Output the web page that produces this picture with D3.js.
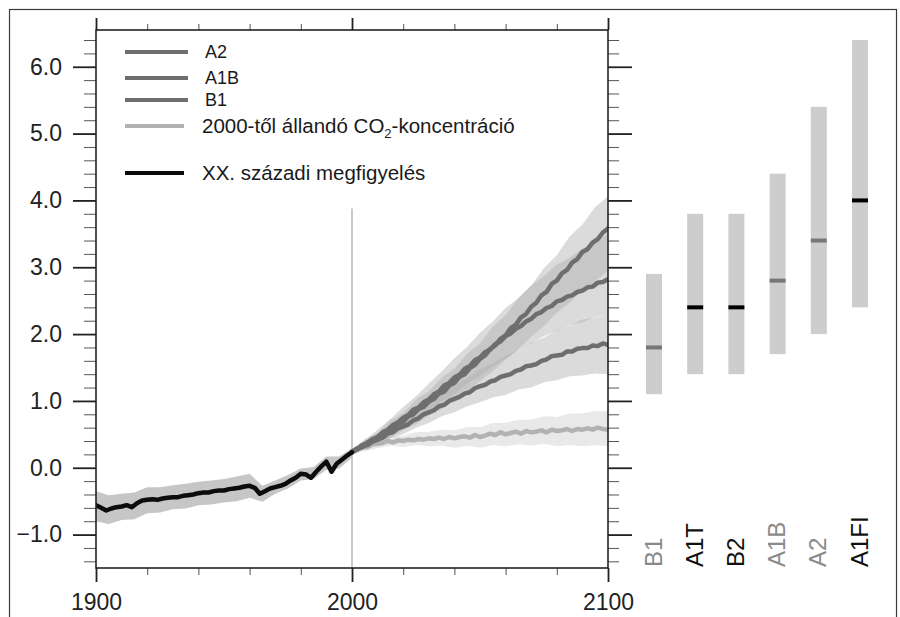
<!DOCTYPE html>
<html><head><meta charset="utf-8">
<script src="https://cdn.jsdelivr.net/npm/d3@7"></script>
<style>
body{margin:0;background:#fff}
svg{display:block}
text{font-family:"Liberation Sans",Arial,Helvetica,sans-serif}
</style>
</head><body>
<svg id="c" width="900" height="617"></svg>
<script>
// ---------- DATA ----------
const xTicks = [1900, 2000, 2100];
const xTickLabels = ["1900", "2000", "2100"];
const xMinorTicks = [1920, 1940, 1960, 1980, 2020, 2040, 2060, 2080];
const yTicks = [-1, 0, 1, 2, 3, 4, 5, 6];
const yTickLabels = ["\u22121.0", "0.0", "1.0", "2.0", "3.0", "4.0", "5.0", "6.0"];

// 20th century observations (every 2 years, 1900-2000)
const histYears = d3.range(1900, 2001, 2);
const histObs = [-0.56,-0.60,-0.64,-0.61,-0.59,-0.58,-0.56,-0.59,-0.53,-0.49,
  -0.48,-0.47,-0.48,-0.46,-0.45,-0.44,-0.44,-0.42,-0.41,-0.40,
  -0.38,-0.37,-0.37,-0.35,-0.34,-0.34,-0.32,-0.31,-0.30,-0.28,
  -0.27,-0.30,-0.39,-0.35,-0.31,-0.29,-0.27,-0.24,-0.19,-0.15,
  -0.09,-0.10,-0.15,-0.06,0.02,0.09,-0.06,0.06,0.12,0.18,0.23];
// 20th century model spread (every 5 years)
const histBandYears = d3.range(1900, 2001, 5);
const histLow  = [-0.80,-0.84,-0.78,-0.77,-0.68,-0.67,-0.62,-0.61,-0.56,-0.55,-0.52,-0.50,-0.45,-0.51,-0.39,-0.31,-0.19,-0.17,-0.03,-0.01,0.15];
const histHigh = [-0.35,-0.41,-0.39,-0.37,-0.29,-0.29,-0.26,-0.24,-0.21,-0.19,-0.17,-0.13,-0.09,-0.27,-0.19,-0.11,-0.01,0.01,0.17,0.17,0.29];

// projections (every 2 years, 2000-2100)
const projYears = d3.range(2000, 2101, 2);
const a2Mean = [0.24,0.29,0.31,0.38,0.40,0.46,0.49,0.56,0.58,0.66,0.69,0.77,0.80,0.88,0.91,0.99,1.03,1.11,1.14,1.23,
  1.27,1.36,1.40,1.49,1.54,1.63,1.68,1.78,1.83,1.93,1.98,2.09,2.14,2.25,2.30,2.41,2.47,2.58,2.63,2.75,
  2.80,2.91,2.96,3.07,3.12,3.23,3.27,3.37,3.42,3.52,3.58];
const a1bMean = [0.24,0.28,0.34,0.37,0.43,0.46,0.53,0.57,0.64,0.68,0.75,0.79,0.87,0.90,0.98,1.02,1.10,1.14,1.23,1.27,
  1.35,1.39,1.48,1.52,1.61,1.65,1.73,1.77,1.85,1.89,1.97,2.01,2.08,2.12,2.19,2.23,2.30,2.33,2.39,2.42,
  2.49,2.51,2.56,2.58,2.63,2.65,2.70,2.71,2.77,2.78,2.82];
const b1Mean = [0.24,0.27,0.32,0.34,0.39,0.42,0.45,0.51,0.53,0.59,0.62,0.65,0.71,0.74,0.80,0.83,0.86,0.92,0.94,1.00,
  1.03,1.06,1.11,1.13,1.19,1.22,1.24,1.29,1.31,1.36,1.38,1.40,1.45,1.47,1.52,1.53,1.55,1.60,1.62,1.67,
  1.68,1.69,1.74,1.74,1.78,1.79,1.79,1.83,1.82,1.86,1.84];
const commitMean = [0.23,0.27,0.30,0.31,0.35,0.36,0.37,0.40,0.38,0.41,0.40,0.42,0.41,0.43,0.42,0.44,0.43,0.45,0.43,0.46,
  0.44,0.46,0.47,0.45,0.49,0.46,0.48,0.51,0.49,0.53,0.50,0.52,0.54,0.51,0.55,0.53,0.54,0.56,0.53,0.57,
  0.55,0.56,0.58,0.55,0.58,0.57,0.59,0.57,0.60,0.58,0.57];

// projection spreads (every 5 years, 2000-2100)
const bandYears = d3.range(2000, 2101, 5);
const a2Low  = [0.21,0.28,0.37,0.45,0.56,0.65,0.78,0.88,1.02,1.14,1.30,1.44,1.62,1.77,1.96,2.12,2.32,2.47,2.66,2.79,2.95];
const a2High = [0.27,0.43,0.52,0.71,0.82,1.02,1.14,1.35,1.48,1.71,1.86,2.11,2.28,2.54,2.72,2.99,3.18,3.46,3.64,3.90,4.06];
const a1bLow  = [0.21,0.31,0.38,0.51,0.60,0.74,0.84,0.99,1.10,1.26,1.37,1.52,1.63,1.76,1.86,1.97,2.05,2.13,2.18,2.25,2.30];
const a1bHigh = [0.27,0.41,0.57,0.73,0.91,1.07,1.26,1.44,1.64,1.81,2.02,2.19,2.39,2.54,2.73,2.87,3.04,3.14,3.28,3.38,3.50];
const b1Low  = [0.21,0.29,0.34,0.44,0.50,0.60,0.67,0.77,0.83,0.92,0.98,1.05,1.09,1.17,1.20,1.28,1.31,1.37,1.38,1.41,1.40];
const b1High = [0.27,0.37,0.50,0.60,0.75,0.85,1.00,1.10,1.24,1.34,1.48,1.56,1.68,1.75,1.87,1.95,2.06,2.12,2.22,2.24,2.30];
const commitLow  = [0.19,0.25,0.29,0.33,0.31,0.34,0.32,0.33,0.30,0.33,0.30,0.34,0.32,0.35,0.33,0.36,0.32,0.34,0.32,0.34,0.32];
const commitHigh = [0.27,0.36,0.41,0.47,0.48,0.53,0.54,0.57,0.56,0.61,0.61,0.67,0.67,0.72,0.72,0.77,0.76,0.81,0.81,0.85,0.84];

// right panel: likely ranges for 2090-2099
const scenarios = ["B1", "A1T", "B2", "A1B", "A2", "A1FI"];
const rangeLow  = [1.1, 1.4, 1.4, 1.7, 2.0, 2.4];
const rangeHigh = [2.9, 3.8, 3.8, 4.4, 5.4, 6.4];
const bestEstimate = [1.8, 2.4, 2.4, 2.8, 3.4, 4.0];

const legendLabels = ["A2", "A1B", "B1", "2000-től állandó CO", "XX. századi megfigyelés"];

// ---------- STYLE ----------
const FONT = '"Liberation Sans",Arial,Helvetica,sans-serif';
const SCEN_GRAY = "#6e6e6e", COMMIT_GRAY = "#b2b2b2", OBS = "#0c0c0c";
const scenColor = {B1:"#8a8a8a", A1T:"#111", B2:"#111", A1B:"#8a8a8a", A2:"#8a8a8a", A1FI:"#111"};
const markColor = {B1:"#777", A1T:"#000", B2:"#000", A1B:"#777", A2:"#777", A1FI:"#000"};

const svg = d3.select("#c");
svg.append("rect").attr("x", 9.5).attr("y", 9.5).attr("width", 887).attr("height", 650)
  .attr("fill", "none").attr("stroke", "#3a3a3a").attr("stroke-width", 1.2);

const x = d3.scaleLinear().domain([1900, 2100]).range([96, 608]);
const y = d3.scaleLinear().domain([-1.5, 6.55]).range([568, 30]);

svg.append("defs").append("clipPath").attr("id", "clip")
  .append("rect").attr("x", 96).attr("y", 30).attr("width", 512).attr("height", 538);
const plot = svg.append("g").attr("clip-path", "url(#clip)");

// 2000 marker
plot.append("line").attr("x1", x(2000)).attr("x2", x(2000)).attr("y1", y(3.88)).attr("y2", y(-1.5))
  .attr("stroke", "#b8b8b8").attr("stroke-width", 1.5);

function band(years, lo, hi, fill, op) {
  plot.append("path").datum(years.map((yr, i) => [yr, lo[i], hi[i]]))
    .attr("d", d3.area().x(d => x(d[0])).y0(d => y(d[1])).y1(d => y(d[2])))
    .attr("fill", fill).attr("fill-opacity", op);
}
function line(years, vals, color, w) {
  plot.append("path").datum(years.map((yr, i) => [yr, vals[i]]))
    .attr("d", d3.line().x(d => x(d[0])).y(d => y(d[1])))
    .attr("fill", "none").attr("stroke", color).attr("stroke-width", w)
    .attr("stroke-linejoin", "round").attr("stroke-linecap", "round");
}

band(histBandYears, histLow, histHigh, "#c6c6c6", 1);
band(bandYears, commitLow, commitHigh, "#b0b0b0", 0.28);
band(bandYears, b1Low, b1High, "#b0b0b0", 0.45);
band(bandYears, a1bLow, a1bHigh, "#b0b0b0", 0.45);
band(bandYears, a2Low, a2High, "#b0b0b0", 0.45);

line(projYears, commitMean, COMMIT_GRAY, 4.5);
line(projYears, b1Mean, SCEN_GRAY, 4.5);
line(projYears, a1bMean, SCEN_GRAY, 4.5);
line(projYears, a2Mean, SCEN_GRAY, 4.5);
line(histYears, histObs, OBS, 4.5);

// ---------- AXES ----------
function styleAxis(g, color, w) {
  g.attr("font-family", FONT);
  g.select(".domain").remove();
  g.selectAll(".tick line").attr("stroke", color).attr("stroke-width", w);
}
const yMinor = d3.range(-14, 65, 2).map(v => v / 10).filter(v => !Number.isInteger(v));
styleAxis(svg.append("g").attr("transform", "translate(96,0)")
  .call(d3.axisLeft(y).tickValues(yMinor).tickSize(12).tickFormat("")), "#555", 1);
styleAxis(svg.append("g").attr("transform", "translate(608,0)")
  .call(d3.axisRight(y).tickValues(yMinor).tickSize(11).tickFormat("")), "#555", 1);
styleAxis(svg.append("g").attr("transform", "translate(0,30)")
  .call(d3.axisTop(x).tickValues(xMinorTicks).tickSize(6).tickFormat("")), "#555", 1);
styleAxis(svg.append("g").attr("transform", "translate(0,568)")
  .call(d3.axisBottom(x).tickValues(xMinorTicks).tickSize(7).tickFormat("")), "#555", 1);

const left = svg.append("g").attr("transform", "translate(96,0)")
  .call(d3.axisLeft(y).tickValues(yTicks).tickSize(23).tickPadding(11).tickFormat((d, i) => yTickLabels[i]));
styleAxis(left, "#222", 1.8);
left.selectAll("text").attr("font-size", 23).attr("fill", "#222");

styleAxis(svg.append("g").attr("transform", "translate(608,0)")
  .call(d3.axisRight(y).tickValues(yTicks).tickSize(24).tickFormat("")), "#222", 1.8);
styleAxis(svg.append("g").attr("transform", "translate(0,30)")
  .call(d3.axisTop(x).tickValues(xTicks).tickSize(12).tickFormat("")), "#222", 1.8);
const bottom = svg.append("g").attr("transform", "translate(0,568)")
  .call(d3.axisBottom(x).tickValues(xTicks).tickSize(14).tickPadding(12).tickFormat((d, i) => xTickLabels[i]));
styleAxis(bottom, "#222", 1.8);
bottom.selectAll("text").attr("font-size", 23).attr("fill", "#222");

svg.append("rect").attr("x", 96).attr("y", 30).attr("width", 512).attr("height", 538)
  .attr("fill", "none").attr("stroke", "#222").attr("stroke-width", 1.6);

// ---------- LEGEND ----------
const legY = [52, 78, 100, 126, 173];
const legColor = [SCEN_GRAY, SCEN_GRAY, SCEN_GRAY, COMMIT_GRAY, OBS];
const legX2 = [188, 188, 188, 184, 184];
const legSize = [18, 18, 18, 20.5, 20.5];
legendLabels.forEach((lab, i) => {
  svg.append("line").attr("x1", 125).attr("x2", legX2[i]).attr("y1", legY[i]).attr("y2", legY[i])
    .attr("stroke", legColor[i]).attr("stroke-width", 4);
  const t = svg.append("text").attr("x", i < 3 ? 205 : 202).attr("y", legY[i]).attr("dy", "0.36em")
    .attr("font-size", legSize[i]).attr("fill", "#1a1a1a").text(lab);
  if (i === 3) {
    t.append("tspan").attr("font-size", 13).attr("dy", 5).text("2");
    t.append("tspan").attr("font-size", 20.5).attr("dy", -5).text("-koncentráció");
  }
});

// ---------- RIGHT PANEL ----------
const sx = d3.scalePoint().domain(scenarios).range([654, 860]);
const bw = 16;
scenarios.forEach((s, i) => {
  svg.append("rect").attr("x", sx(s) - bw / 2).attr("width", bw)
    .attr("y", y(rangeHigh[i])).attr("height", y(rangeLow[i]) - y(rangeHigh[i]))
    .attr("fill", "#cdcdcd");
  svg.append("rect").attr("x", sx(s) - bw / 2).attr("width", bw)
    .attr("y", y(bestEstimate[i]) - 2).attr("height", 4).attr("fill", markColor[s]);
  svg.append("text").attr("transform", `translate(${sx(s) + 7.5},567) rotate(-90)`)
    .attr("font-size", 24).attr("fill", scenColor[s]).text(s);
});
</script>
</body></html>
